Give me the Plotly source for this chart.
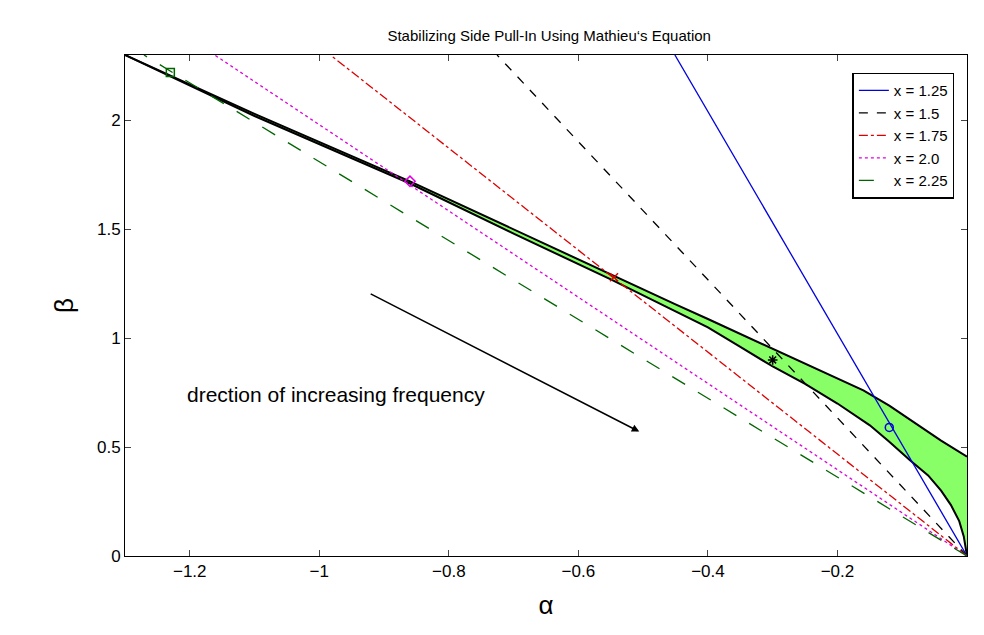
import plotly.graph_objects as go

# frequency lines beta = slope * (-alpha)
names = ["x = 1.25", "x = 1.5", "x = 1.75", "x = 2.0", "x = 2.25"]
slopes = [5.1, 3.17, 2.34, 1.98, 1.81]
colors = ["#0000dd", "black", "#dd0000", "#dd00dd", "#006400"]
dashes = ["solid", "dash", "dashdot", "dot", "longdash"]

# stability region boundaries
upper_a = [-1.3, -1.1, -0.86, -0.7, -0.55, -0.45, -0.4, -0.35, -0.3, -0.25, -0.2, -0.16, -0.12, -0.08, -0.04, 0.0]
upper_b = [2.3, 2.03, 1.72, 1.50, 1.29, 1.155, 1.088, 1.02, 0.953, 0.885, 0.815, 0.76, 0.69, 0.61, 0.53, 0.456]
lower_a = [-1.3, -1.1, -0.86, -0.7, -0.55, -0.45, -0.4, -0.35, -0.3, -0.25, -0.2, -0.15, -0.12, -0.088, -0.06, -0.04, -0.025, -0.012, -0.005, 0.0]
lower_b = [2.3, 2.02, 1.71, 1.48, 1.27, 1.125, 1.05, 0.96, 0.87, 0.79, 0.70, 0.60, 0.525, 0.44, 0.37, 0.30, 0.235, 0.16, 0.09, 0.0]

# marker points at intersections
mark_a = [-0.12, -0.3, -0.545, -0.86, -1.23]
mark_b = [0.59, 0.9, 1.28, 1.72, 2.22]
mark_sym = ["circle-open", "asterisk-open", "x-thin-open", "diamond-open", "square-open"]

fig = go.Figure()
fig.add_trace(go.Scatter(x=lower_a, y=lower_b, mode="lines", line=dict(color="black", width=2),
                         showlegend=False))
fig.add_trace(go.Scatter(x=upper_a, y=upper_b, mode="lines", line=dict(color="black", width=2),
                         fill="tonexty", fillcolor="#88ff66", showlegend=False))

for n, s, c, d in zip(names, slopes, colors, dashes):
    a_end = -2.3 / s
    fig.add_trace(go.Scatter(x=[0, max(a_end, -1.3)], y=[0, min(2.3, 1.3 * s)], mode="lines", name=n,
                             line=dict(color=c, dash=d, width=1.3)))

for a, b, c, m in zip(mark_a, mark_b, colors, mark_sym):
    fig.add_trace(go.Scatter(x=[a], y=[b], mode="markers", showlegend=False,
                             marker=dict(symbol=m, size=8, color=c, line=dict(color=c, width=1.5))))

fig.add_annotation(x=-0.506, y=0.571, ax=-0.923, ay=1.207, xref="x", yref="y", axref="x", ayref="y",
                   showarrow=True, arrowhead=2, arrowwidth=1.5, arrowcolor="black", text="")
fig.add_annotation(x=-0.975, y=0.74, text="drection of increasing frequency", showarrow=False,
                   font=dict(size=21, color="black"))

fig.update_layout(
    width=984, height=635, plot_bgcolor="white", paper_bgcolor="white",
    margin=dict(l=117, r=25, t=47, b=87),
    font=dict(family="Liberation Sans", color="black", size=17),
    title=dict(text="Stabilizing Side Pull-In Using Mathieu‘s Equation", x=0.55, y=0.965,
               font=dict(size=15)),
    legend=dict(x=0.985, y=0.965, xanchor="right", yanchor="top", bordercolor="black", traceorder="normal",
                borderwidth=1.5, font=dict(size=15), bgcolor="white"),
)
fig.update_xaxes(range=[-1.3, 0], tickvals=[-1.2, -1, -0.8, -0.6, -0.4, -0.2],
                 ticktext=["−1.2", "−1", "−0.8", "−0.6", "−0.4", "−0.2"],
                 showgrid=False, zeroline=False, showline=True, linecolor="black", mirror="ticks",
                 ticks="inside", ticklen=6, title=dict(text="α", font=dict(size=26)))
fig.update_yaxes(range=[0, 2.3], tickvals=[0, 0.5, 1, 1.5, 2], ticktext=["0", "0.5", "1", "1.5", "2"],
                 showgrid=False, zeroline=False, showline=True, linecolor="black", mirror="ticks",
                 ticks="inside", ticklen=6, title=dict(text="β", font=dict(size=26)))

fig.write_html("out.html")
